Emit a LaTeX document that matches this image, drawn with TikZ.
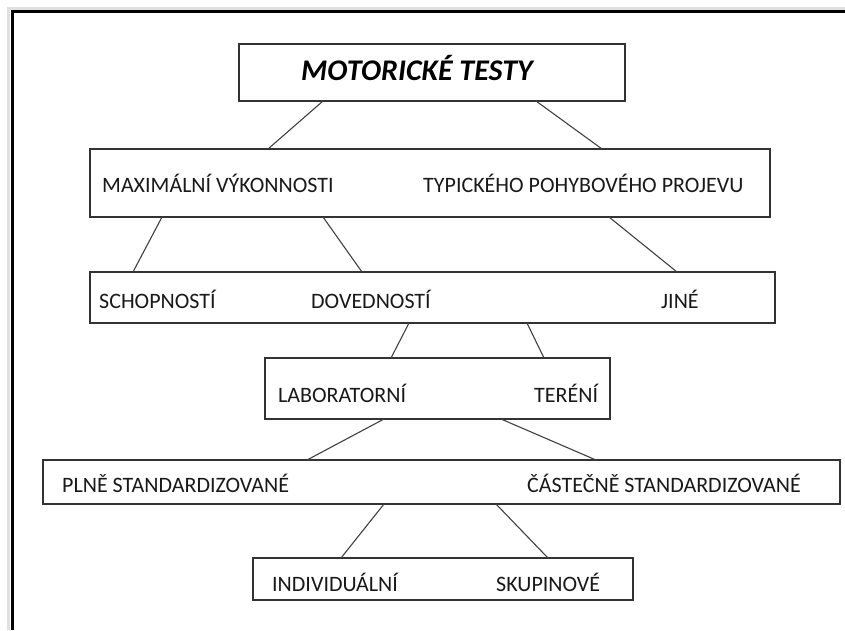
\documentclass[tikz,border=0pt]{standalone}
\usepackage{fontspec}
\setmainfont{Carlito}
\usepackage{tikz}
\usetikzlibrary{positioning}

\begin{document}
\begin{tikzpicture}[
  x=1pt, y=-1pt,
  tier/.style={
    draw=black!80,
    line width=1.3pt,
    fill=white,
    inner sep=0pt,
    outer sep=0pt
  },
  word/.style={
    anchor=west,
    inner sep=0pt,
    text=black!90,
    font=\fontsize{22}{26}\selectfont
  },
  link/.style={
    draw=black!75,
    line width=1.1pt
  }
]

\useasboundingbox (0,0) rectangle (845,630);

% Frame
\draw[black!12, line width=3pt] (8.5,630) -- (8.5,8.5) -- (845,8.5);
\draw[black, line width=3pt] (12,630) -- (12,11.5) -- (845,11.5);

% -------------------------------------------------------------------
% Boxes
% -------------------------------------------------------------------
\node[tier, minimum width=386pt, minimum height=57pt] (motor) at (432,72.5) {};
\node[tier, minimum width=680pt, minimum height=68pt] (vykon) at (430,183) {};
\node[tier, minimum width=685pt, minimum height=51pt] (druh) at (432.5,297.5) {};
\node[tier, minimum width=345pt, minimum height=61pt] (prostr) at (437.5,388.5) {};
\node[tier, minimum width=797pt, minimum height=44pt] (stand) at (441.5,482) {};
\node[tier, minimum width=380pt, minimum height=42pt] (org) at (443,579) {};

% -------------------------------------------------------------------
% Texts
% -------------------------------------------------------------------
\node[word, font=\fontsize{30}{34}\selectfont\bfseries\itshape, text=black]
  (motortxt) at (301,68) {MOTORICKÉ TESTY};

\node[word] (maxvyk) at (102,183) {MAXIMÁLNÍ VÝKONNOSTI};
\node[word] (typpoh) at (423,183) {TYPICKÉHO POHYBOVÉHO PROJEVU};

\node[word] (schop) at (99,299) {SCHOPNOSTÍ};
\node[word] (doved) at (311,299) {DOVEDNOSTÍ};
\node[word] (jine) at (661,299) {JINÉ};

\node[word] (labor) at (278,393) {LABORATORNÍ};
\node[word] (tereni) at (534,393) {TERÉNÍ};

\node[word] (plne) at (62,483) {PLNĚ STANDARDIZOVANÉ};
\node[word] (castec) at (527,483) {ČÁSTEČNĚ STANDARDIZOVANÉ};

\node[word] (indiv) at (272,582) {INDIVIDUÁLNÍ};
\node[word] (skup) at (496,582) {SKUPINOVÉ};

% -------------------------------------------------------------------
% Connectors
% -------------------------------------------------------------------
\draw[link] ([xshift=84pt]motor.south west) -- ([xshift=178pt]vykon.north west);
\draw[link] ([xshift=297pt]motor.south west) -- ([xshift=512pt]vykon.north west);

\draw[link] ([xshift=72pt]vykon.south west) -- ([xshift=43pt]druh.north west);
\draw[link] ([xshift=233pt]vykon.south west) -- ([xshift=272pt]druh.north west);
\draw[link] ([xshift=519pt]vykon.south west) -- ([xshift=587pt]druh.north west);

\draw[link] ([xshift=319pt]druh.south west) -- ([xshift=126pt]prostr.north west);
\draw[link] ([xshift=437pt]druh.south west) -- ([xshift=279pt]prostr.north west);

\draw[link] ([xshift=119pt]prostr.south west) -- ([xshift=264pt]stand.north west);
\draw[link] ([xshift=236pt]prostr.south west) -- ([xshift=553pt]stand.north west);

\draw[link] ([xshift=341pt]stand.south west) -- ([xshift=88pt]org.north west);
\draw[link] ([xshift=453pt]stand.south west) -- ([xshift=295pt]org.north west);

\end{tikzpicture}
\end{document}
